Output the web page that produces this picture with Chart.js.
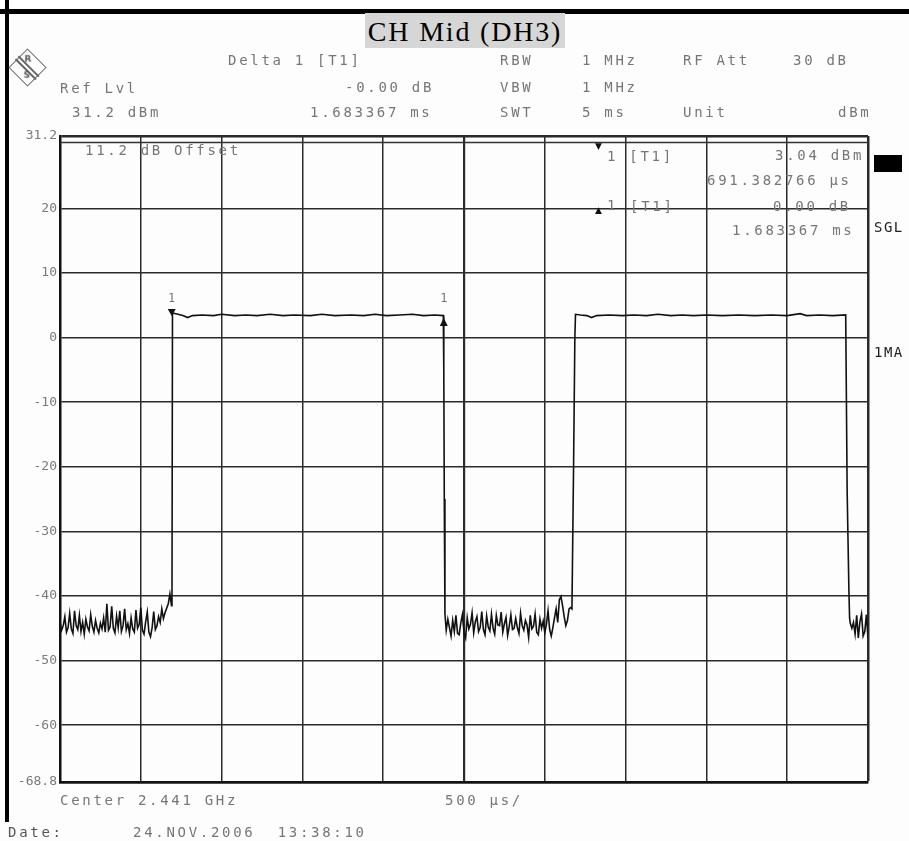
<!DOCTYPE html>
<html>
<head>
<meta charset="utf-8">
<script src="https://cdn.jsdelivr.net/npm/chart.js@4.4.1/dist/chart.umd.min.js"></script>
<style>
body { margin: 0; background: #fff; }
#wrap { position: relative; width: 909px; height: 841px; overflow: hidden; background: #fcfdfc; }
#c { position: absolute; left: 0; top: 0; }
.t { position: absolute; font: 14px "DejaVu Sans Mono", monospace; color: #767676; letter-spacing: 2.7px; line-height: 14px; white-space: pre; }
.k { color: #222; letter-spacing: 1.5px; }
#topstrip { position: absolute; left: 0; top: 0; width: 909px; height: 9px; background: #fff; }
#topbar { position: absolute; left: 0; top: 9px; width: 909px; height: 5px; background: #000; }
#leftbar { position: absolute; left: 5px; top: 0; width: 4px; height: 822px; background: #000; }
#title { position: absolute; left: 365px; top: 13px; width: 200px; height: 35px; background: #d6d6d6;
  font: 28px "Liberation Serif", "Times New Roman", serif; letter-spacing: 1.8px; line-height: 38px; text-align: center; color: #000; }
#logo { position: absolute; left: 14px; top: 54px; width: 25px; height: 25px; border: 1.5px solid #666; transform: rotate(45deg); background: #fcfdfc; }
#logo span { position: absolute; font: bold 9px "DejaVu Sans", sans-serif; color: #555; transform: rotate(-45deg); }
#logo i { position: absolute; left: -2px; top: 10px; width: 29px; height: 1.5px; background: #666; }
#box { position: absolute; left: 874px; top: 155px; width: 28px; height: 17px; background: #000; }
.tri { position: absolute; font: 9px "DejaVu Sans", sans-serif; color: #111; }
</style>
</head>
<body>
<div id="wrap">
  <canvas id="c" width="909" height="841"></canvas>
  <div id="topstrip"></div>
  <div id="topbar"></div>
  <div id="leftbar"></div>
  <div id="title">CH Mid (DH3)</div>
  <div id="logo"><span style="left:3px;top:1px">R</span><i></i><i style="top:14px"></i><span style="left:14px;top:13px">S</span></div>

  <div class="t" style="left:228px;top:53px">Delta 1 [T1]</div>
  <div class="t" style="left:60px;top:81px">Ref Lvl</div>
  <div class="t" style="left:345px;top:80px">-0.00 dB</div>
  <div class="t" style="left:72px;top:105px">31.2 dBm</div>
  <div class="t" style="left:310px;top:105px">1.683367 ms</div>

  <div class="t" style="left:500px;top:53px">RBW</div>
  <div class="t" style="left:582px;top:53px">1 MHz</div>
  <div class="t" style="left:683px;top:53px">RF Att</div>
  <div class="t" style="left:793px;top:53px">30 dB</div>
  <div class="t" style="left:500px;top:80px">VBW</div>
  <div class="t" style="left:582px;top:80px">1 MHz</div>
  <div class="t" style="left:500px;top:105px">SWT</div>
  <div class="t" style="left:582px;top:105px">5 ms</div>
  <div class="t" style="left:683px;top:105px">Unit</div>
  <div class="t" style="left:838px;top:105px">dBm</div>

  <div class="t" style="left:85px;top:143px">11.2 dB Offset</div>
  <div class="tri" style="left:595px;top:141px">▼</div>
  <div class="t" style="left:607px;top:149px">1 [T1]</div>
  <div class="t" style="left:775px;top:148px">3.04 dBm</div>
  <div class="t" style="left:707px;top:173px">691.382766 µs</div>
  <div class="tri" style="left:595px;top:205px">▲</div>
  <div class="t" style="left:607px;top:198px">1</div>
  <div class="t" style="left:630px;top:199px">[T1]</div>
  <div class="t" style="left:773px;top:199px">0.00 dB</div>
  <div class="t" style="left:732px;top:223px">1.683367 ms</div>

  <div id="box"></div>
  <div class="t k" style="left:874px;top:220px">SGL</div>
  <div class="t k" style="left:874px;top:345px">1MA</div>

  <div class="t" style="left:60px;top:793px">Center 2.441 GHz</div>
  <div class="t" style="left:445px;top:793px">500 µs/</div>
  <div class="t" style="left:8px;top:825px;color:#555">Date:</div>
  <div class="t" style="left:133px;top:825px">24.NOV.2006  13:38:10</div>
</div>
<script>
// sweep: 5 ms, 500 us/div
var xGridMs = [0, 0.5, 1, 1.5, 2, 2.5, 3, 3.5, 4, 4.5, 5];
var yTickDb = [31.2, 20, 10, 0, -10, -20, -30, -40, -50, -60, -68.8];

// trace
var noise1Ms = [0.00, 0.01, 0.02, 0.03, 0.04, 0.05, 0.06, 0.07, 0.08, 0.09,
                0.10, 0.11, 0.12, 0.13, 0.14, 0.15, 0.16, 0.17, 0.18, 0.19,
                0.20, 0.21, 0.22, 0.23, 0.24, 0.25, 0.26, 0.27, 0.28, 0.29,
                0.30, 0.31, 0.32, 0.33, 0.34, 0.35, 0.36, 0.37, 0.38, 0.39,
                0.40, 0.41, 0.42, 0.43, 0.44, 0.45, 0.46, 0.47, 0.48, 0.49,
                0.50, 0.51, 0.52, 0.53, 0.54, 0.55, 0.56, 0.57, 0.58, 0.59,
                0.60, 0.61, 0.62, 0.63, 0.64, 0.65, 0.66, 0.67, 0.68, 0.69];
var noise1Db = [-44.0, -45.3, -44.6, -43.2, -45.6, -44.9, -42.7, -45.1, -45.8, -42.3,
                -44.6, -45.2, -43.0, -45.5, -44.1, -45.9, -43.6, -44.8, -45.4, -42.9,
                -44.7, -45.6, -43.8, -45.0, -45.7, -44.2, -45.1, -43.4, -45.6, -41.2,
                -45.3, -44.8, -41.6, -45.0, -45.7, -43.1, -44.9, -42.3, -45.5, -44.6,
                -42.0, -45.2, -44.3, -45.8, -43.4, -45.1, -45.6, -42.2, -45.0, -44.4,
                -41.8, -45.3, -45.9, -44.0, -42.5, -45.6, -46.3, -44.9, -42.4, -45.2,
                -44.6, -43.2, -44.1, -42.0, -43.5, -42.6, -41.9, -41.2, -39.7, -41.5];

var pulse1Ms = [0.693, 0.696, 0.73, 0.76, 0.79, 0.82, 0.88, 0.95, 1.00, 1.08, 1.15, 1.22, 1.30, 1.38, 1.45, 1.55, 1.62,
                1.70, 1.80, 1.88, 1.95, 2.02, 2.10, 2.18, 2.25, 2.32, 2.372, 2.375, 2.378, 2.382];
var pulse1Db = [-40.5, 3.8, 3.6, 3.4, 3.1, 3.4, 3.5, 3.4, 3.6, 3.4, 3.5, 3.4, 3.6, 3.4, 3.5, 3.4, 3.6,
                3.4, 3.5, 3.4, 3.6, 3.4, 3.5, 3.6, 3.4, 3.5, 3.4, -5.0, -25.0, -42.8];

var noise2Ms = [2.39, 2.40, 2.41, 2.42, 2.43, 2.44, 2.45, 2.46, 2.47, 2.48,
                2.49, 2.50, 2.51, 2.52, 2.53, 2.54, 2.55, 2.56, 2.57, 2.58,
                2.59, 2.60, 2.61, 2.62, 2.63, 2.64, 2.65, 2.66, 2.67, 2.68,
                2.69, 2.70, 2.71, 2.72, 2.73, 2.74, 2.75, 2.76, 2.77, 2.78,
                2.79, 2.80, 2.81, 2.82, 2.83, 2.84, 2.85, 2.86, 2.87, 2.88,
                2.89, 2.90, 2.91, 2.92, 2.93, 2.94, 2.95, 2.96, 2.97, 2.98,
                2.99, 3.00, 3.01, 3.02, 3.03, 3.04, 3.05, 3.06, 3.07, 3.08,
                3.09, 3.10, 3.11, 3.12, 3.13, 3.14, 3.15, 3.16];
var noise2Db = [-45.3, -43.6, -44.9, -46.2, -43.8, -45.5, -43.0, -45.8, -46.0, -44.2,
                -42.9, -45.6, -46.5, -43.4, -45.1, -44.4, -42.6, -45.7, -44.0, -43.2,
                -45.5, -44.9, -42.4, -45.2, -46.0, -43.1, -44.8, -45.4, -42.8, -45.0,
                -45.9, -43.0, -44.5, -44.6, -42.5, -45.6, -44.3, -43.3, -46.1, -44.7,
                -42.9, -45.2, -45.0, -43.5, -44.9, -45.8, -42.7, -44.6, -45.3, -43.8,
                -44.5, -46.4, -43.0, -45.1, -44.7, -42.8, -45.6, -46.0, -43.6, -45.0,
                -43.9, -45.7, -44.4, -42.3, -45.2, -46.2, -44.9, -43.4, -42.0, -44.1,
                -40.6, -40.1, -41.5, -43.2, -44.6, -43.8, -42.0, -41.8];

var pulse2Ms = [3.168, 3.178, 3.186, 3.19, 3.22, 3.26, 3.29, 3.32, 3.40, 3.48, 3.55, 3.63, 3.70, 3.78, 3.85, 3.92, 4.00,
                4.10, 4.20, 4.30, 4.40, 4.50, 4.58, 4.62, 4.70, 4.78, 4.862, 4.871, 4.882, 4.886];
var pulse2Db = [-42.0, -20.0, 0.0, 3.6, 3.5, 3.4, 3.1, 3.4, 3.5, 3.4, 3.5, 3.4, 3.6, 3.4, 3.5, 3.4, 3.5,
                3.4, 3.5, 3.4, 3.5, 3.4, 3.7, 3.4, 3.5, 3.4, 3.5, -23.8, -39.3, -43.4];

var noise3Ms = [4.89, 4.90, 4.91, 4.92, 4.93, 4.94, 4.95, 4.96, 4.97, 4.98, 4.99, 5.00];
var noise3Db = [-44.2, -45.0, -44.1, -45.9, -43.0, -46.5, -44.0, -42.8, -46.2, -45.5, -42.9, -46.5];

// display line just under the top edge
var dispLineMs = [0, 5];
var dispLineDb = [30.2, 30.2];

// marker 1 and delta marker 1
var markerMs = [0.691382766, 2.374749766];
var markerDb = [3.04, 3.04];
var markerDir = ['down', 'up'];

function pts(xs, ys) {
    return xs.map(function (t, i) { return {x: t, y: ys[i]}; });
}
var trace = [].concat(
    pts(noise1Ms, noise1Db), pts(pulse1Ms, pulse1Db),
    pts(noise2Ms, noise2Db), pts(pulse2Ms, pulse2Db),
    pts(noise3Ms, noise3Db)
);

var markerPlugin = {
    id: 'markers',
    afterDatasetsDraw: function (chart) {
        var ctx = chart.ctx, x = chart.scales.x, y = chart.scales.y;
        ctx.save();
        markerMs.forEach(function (t, i) {
            var px = x.getPixelForValue(t), py = y.getPixelForValue(markerDb[i]);
            ctx.fillStyle = '#111';
            ctx.beginPath();
            if (markerDir[i] === 'down') {
                ctx.moveTo(px - 4, py - 9); ctx.lineTo(px + 4, py - 9); ctx.lineTo(px, py - 2);
            } else {
                ctx.moveTo(px, py); ctx.lineTo(px - 4, py + 8); ctx.lineTo(px + 4, py + 8);
            }
            ctx.closePath();
            ctx.fill();
            ctx.fillStyle = '#777';
            ctx.font = '12px "DejaVu Sans Mono"';
            ctx.textAlign = 'center';
            ctx.textBaseline = 'middle';
            ctx.fillText('1', px, py - 19);
        });
        ctx.restore();
    }
};

var ctx = document.getElementById('c').getContext('2d');
var chart = new Chart(ctx, {
    type: 'scatter',
    data: {
        datasets: [{
            label: 'Trace 1',
            data: trace,
            showLine: true,
            borderColor: '#111',
            borderWidth: 1.6,
            pointRadius: 0
        }, {
            label: 'Display line',
            data: pts(dispLineMs, dispLineDb),
            showLine: true,
            borderColor: '#333',
            borderWidth: 1.5,
            pointRadius: 0
        }]
    },
    options: {
        responsive: false,
        animation: false,
        layout: { padding: { top: 136, right: 41, bottom: 59, left: 0 } },
        plugins: { legend: { display: false }, tooltip: { enabled: false } },
        scales: {
            x: {
                type: 'linear',
                min: 0,
                max: 5,
                afterBuildTicks: function (s) { s.ticks = xGridMs.map(function (v) { return {value: v}; }); },
                afterFit: function (s) { s.height = 0; },
                ticks: { display: false },
                grid: {
                    drawTicks: false,
                    color: '#2b2b2b',
                    lineWidth: function (c) {
                        var v = c.tick && c.tick.value;
                        if (v === 5) return 2.5;
                        if (v === 2.5) return 2.2;
                        return 1.5;
                    }
                },
                border: { color: '#111', width: 2.5 }
            },
            y: {
                min: -68.8,
                max: 31.2,
                afterBuildTicks: function (s) { s.ticks = yTickDb.map(function (v) { return {value: v}; }); },
                afterFit: function (s) { s.width = 60; },
                ticks: {
                    padding: 3,
                    color: '#7a7a7a',
                    font: { family: 'DejaVu Sans Mono', size: 13 },
                    callback: function (v) { return String(v); }
                },
                grid: {
                    drawTicks: false,
                    color: '#2b2b2b',
                    lineWidth: function (c) {
                        var v = c.tick && c.tick.value;
                        return (v === 31.2 || v === -68.8) ? 2.5 : 1.5;
                    }
                },
                border: { color: '#111', width: 2.5 }
            }
        }
    },
    plugins: [markerPlugin]
});
</script>
</body>
</html>
